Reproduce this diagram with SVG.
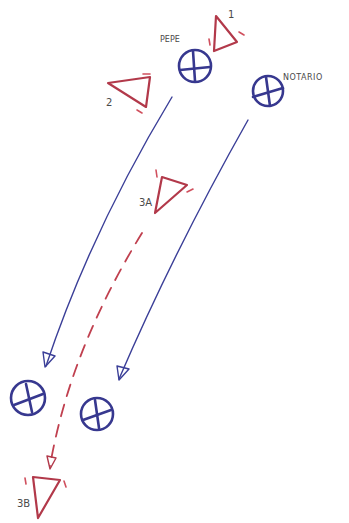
<svg xmlns="http://www.w3.org/2000/svg" width="349" height="523" viewBox="0 0 349 523">
<defs>
<style>
.bl{fill:none;stroke:#3b3f98;stroke-width:1.4;stroke-linecap:round;stroke-linejoin:round}
.pl{fill:none;stroke:#37388f;stroke-width:2.6;stroke-linecap:round}
.rd{fill:none;stroke:#b2394a;stroke-width:2.2;stroke-linecap:round;stroke-linejoin:round}
.tk{fill:none;stroke:#d0505e;stroke-width:1.6;stroke-linecap:round}
.dash{fill:none;stroke:#c0404f;stroke-width:1.8;stroke-dasharray:12 9;stroke-linecap:round}
.lbl{font-family:"DejaVu Sans",sans-serif;fill:#4a4a4a}
</style>
</defs>
<rect width="349" height="523" fill="#ffffff"/>
<g id="connectors">
<path class="bl" d="M172,97 Q91,231 46,366"/>
<path class="bl" d="M43,352 L55,356 L45,367 Z"/>
<path class="bl" d="M248,120 Q174,251 119,379"/>
<path class="bl" d="M117,366 L129,369 L119,380 Z"/>
<path class="dash" d="M142,233 Q70,350 50,466"/>
<path class="rd" style="stroke-width:1.4" d="M47,456 L56,458 L50,469 Z"/>
</g>
<g id="pepe">
<circle class="pl" cx="195" cy="66" r="16"/>
<line class="pl" x1="193" y1="51" x2="195" y2="81"/>
<line class="pl" x1="180" y1="70" x2="210" y2="67"/>
<text class="lbl" x="160" y="42" font-size="8">PEPE</text>
</g>
<g id="notario">
<circle class="pl" cx="268" cy="91" r="15"/>
<line class="pl" x1="266" y1="77" x2="270" y2="106"/>
<line class="pl" x1="253" y1="97" x2="283" y2="88"/>
<text class="lbl" x="283" y="80" font-size="8" letter-spacing="0.5">NOTARIO</text>
</g>
<g id="player-bl">
<circle class="pl" cx="28" cy="398" r="17"/>
<line class="pl" x1="26" y1="384" x2="32" y2="412"/>
<line class="pl" x1="14" y1="405" x2="43" y2="394"/>
</g>
<g id="player-br">
<circle class="pl" cx="97" cy="414" r="16"/>
<line class="pl" x1="95" y1="400" x2="99" y2="428"/>
<line class="pl" x1="83" y1="420" x2="111" y2="410"/>
</g>
<g id="t1">
<path class="rd" d="M216,16 L237,42 L214,51 Z"/>
<line class="tk" x1="209" y1="39" x2="210" y2="45"/>
<line class="tk" x1="239" y1="32" x2="244" y2="35"/>
<text class="lbl" x="228" y="18" font-size="10">1</text>
</g>
<g id="t2">
<path class="rd" d="M108,83 L150,77 L146,107 Z"/>
<line class="tk" x1="143" y1="74" x2="150" y2="74"/>
<line class="tk" x1="137" y1="110" x2="142" y2="113"/>
<text class="lbl" x="106" y="106" font-size="10">2</text>
</g>
<g id="t3a">
<path class="rd" d="M162,177 L187,185 L155,213 Z"/>
<line class="tk" x1="156" y1="170" x2="157" y2="177"/>
<line class="tk" x1="187" y1="192" x2="193" y2="189"/>
<text class="lbl" x="139" y="206" font-size="10">3A</text>
</g>
<g id="t3b">
<path class="rd" d="M33,477 L60,480 L38,518 Z"/>
<line class="tk" x1="25" y1="478" x2="26" y2="484"/>
<line class="tk" x1="64" y1="481" x2="66" y2="487"/>
<text class="lbl" x="17" y="507" font-size="10">3B</text>
</g>
</svg>
